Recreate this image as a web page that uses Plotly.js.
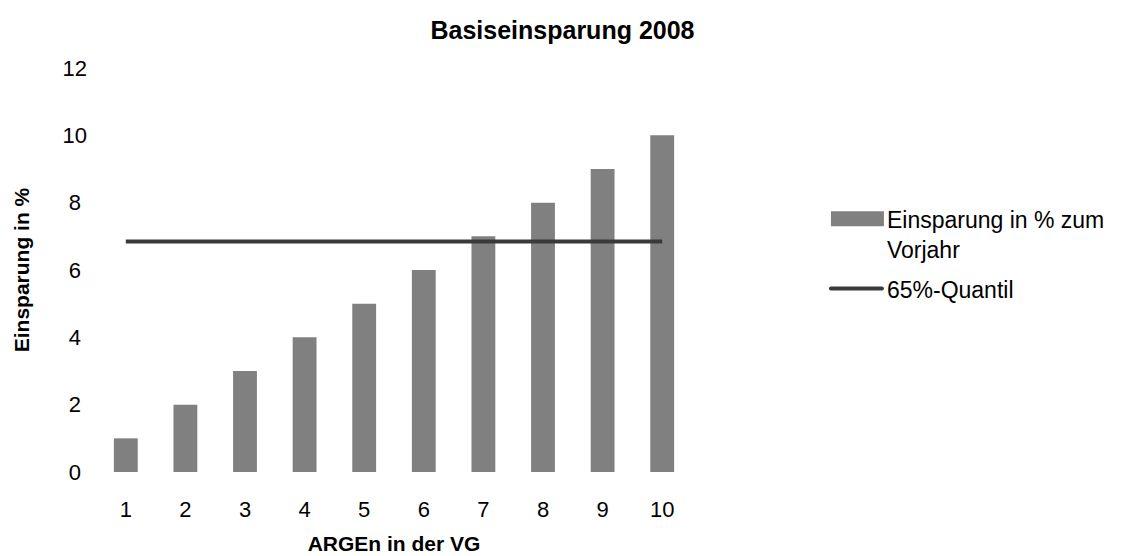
<!DOCTYPE html>
<html>
<head>
<meta charset="utf-8">
<script src="https://cdn.plot.ly/plotly-3.0.1.min.js"></script>
<style>html,body{margin:0;padding:0;background:#fff;}#chart{width:1125px;height:556px;}</style>
</head>
<body>
<div id="chart"></div>
<script>
const categories = [1, 2, 3, 4, 5, 6, 7, 8, 9, 10];
const einsparung = [1, 2, 3, 4, 5, 6, 7, 8, 9, 10];
const quantil65 = [6.85, 6.85, 6.85, 6.85, 6.85, 6.85, 6.85, 6.85, 6.85, 6.85];
const yTicks = [0, 2, 4, 6, 8, 10, 12];
// single-digit labels get a half-digit space so labels sit centred like the original
const yTickText = yTicks.map(function (v) { return v < 10 ? v + '\u2008' : String(v); });

const traces = [
  {
    type: 'bar',
    x: categories,
    y: einsparung,
    name: 'Einsparung in % zum<br>Vorjahr',
    legendgroup: 'a',
    marker: {color: '#808080'},
    width: 0.4
  },
  {
    type: 'scatter',
    mode: 'lines',
    x: categories,
    y: quantil65,
    name: '65%-Quantil',
    legendgroup: 'b',
    line: {color: '#3a3a3a', width: 4}
  }
];

const layout = {
  width: 1125,
  height: 556,
  paper_bgcolor: '#ffffff',
  plot_bgcolor: '#ffffff',
  font: {family: 'Liberation Sans, Arial, sans-serif', color: '#000000', size: 22},
  margin: {l: 96, r: 433, t: 68, b: 84},
  title: {
    text: '<b>Basiseinsparung 2008</b>',
    font: {size: 25, color: '#000000'},
    x: 0.5, xref: 'container', xanchor: 'center',
    y: 0.946, yref: 'container', yanchor: 'middle'
  },
  xaxis: {
    range: [0.5, 10.5],
    tickvals: categories,
    ticktext: categories.map(String),
    showgrid: false, zeroline: false, showline: false, ticks: '',
    ticklabelstandoff: 22,
    tickfont: {size: 22},
    title: {text: '<b>ARGEn in der VG</b>', font: {size: 21}, standoff: 15}
  },
  yaxis: {
    range: [0, 12],
    tickvals: yTicks,
    ticktext: yTickText,
    showgrid: false, zeroline: false, showline: false, ticks: '',
    ticklabelstandoff: 8,
    tickfont: {size: 22},
    title: {text: '<b>Einsparung in %</b>', font: {size: 21}, standoff: 27}
  },
  legend: {
    x: 1.213, y: 0.68, xanchor: 'left', yanchor: 'top',
    font: {size: 23},
    bgcolor: 'rgba(0,0,0,0)',
    valign: 'top',
    traceorder: 'grouped',
    tracegroupgap: 7,
    itemwidth: 58
  },
  showlegend: true,
  bargap: 0.6
};

Plotly.newPlot('chart', traces, layout, {displayModeBar: false, staticPlot: true}).then(function (gd) {
  // widen the legend swatches to resemble the original's long keys
  const groups = gd.querySelectorAll('.legend .traces');
  groups.forEach(function (g, i) {
    const text = g.querySelector('text.legendtext');
    const tx = text ? parseFloat(text.getAttribute('x')) : 68;
    const right = tx - 3, w = 55, left = right - w;
    if (i === 0) {
      const p = g.querySelector('.legendpoints path');
      if (p) { p.setAttribute('d', 'M' + (left + 2) + ',-7.5h' + (w - 2) + 'v15h-' + (w - 2) + 'Z'); p.removeAttribute('transform'); }
    } else {
      const p = g.querySelector('.legendlines path');
      if (p) { p.setAttribute('d', 'M' + (left + 2) + ',0h' + (w - 4)); p.style.strokeLinecap = 'round'; p.removeAttribute('transform'); }
    }
  });
});
</script>
</body>
</html>
